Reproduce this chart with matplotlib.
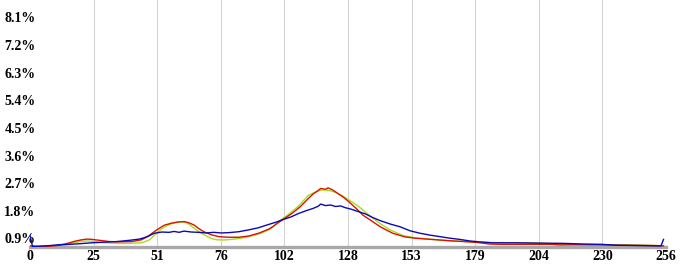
import numpy as np
import matplotlib
matplotlib.use("Agg")
from matplotlib import pyplot as plt

# tick labels as shown on the chart
x_tick_labels = ["0", "25", "51", "76", "102", "128", "153", "179", "204", "230", "256"]
y_tick_values = [0.9, 1.8, 2.7, 3.6, 4.5, 5.4, 6.3, 7.2, 8.1]

# series (percent of pixels per level)
green_x = [0, 5, 10, 14, 17, 20, 23, 26, 30, 35, 40, 45, 48, 50, 53, 56, 59, 61, 63, 65,
           67, 69, 71, 73, 75, 78, 81, 85, 89, 93, 97, 100, 104, 108, 112, 115, 117, 119,
           121, 123, 126, 129, 132, 135, 138, 141, 145, 150, 155, 160, 165, 170, 175, 180,
           185, 195, 205, 212, 220, 230, 240, 250, 255]
green_y = [0.64, 0.64, 0.65, 0.68, 0.75, 0.80, 0.82, 0.80, 0.76, 0.74, 0.74, 0.76, 0.85,
           1.00, 1.22, 1.35, 1.43, 1.44, 1.42, 1.30, 1.18, 1.07, 0.98, 0.90, 0.86, 0.85,
           0.87, 0.91, 0.98, 1.07, 1.22, 1.45, 1.68, 1.95, 2.30, 2.42, 2.47, 2.48, 2.45,
           2.40, 2.28, 2.12, 1.96, 1.76, 1.56, 1.38, 1.18, 1.00, 0.92, 0.88, 0.85, 0.82,
           0.80, 0.78, 0.77, 0.76, 0.75, 0.72, 0.69, 0.70, 0.69, 0.68, 0.66]

red_x = [0, 3, 8, 12, 15, 18, 21, 23, 25, 28, 32, 36, 41, 45, 48, 51, 54, 57, 60, 62, 64,
         66, 68, 70, 73, 76, 80, 84, 88, 92, 96, 98, 100, 103, 106, 109, 112, 114, 116, 117,
         119, 120, 122, 124, 126, 128, 131, 134, 137, 141, 146, 151, 155, 160, 165, 170,
         175, 180, 185, 190, 200, 210, 213, 220, 230, 240, 250, 255]
red_y = [0.66, 0.64, 0.65, 0.68, 0.74, 0.81, 0.86, 0.88, 0.87, 0.84, 0.80, 0.79, 0.80,
         0.86, 1.00, 1.18, 1.33, 1.40, 1.44, 1.45, 1.41, 1.34, 1.22, 1.12, 1.02, 0.96,
         0.94, 0.94, 0.98, 1.07, 1.20, 1.30, 1.42, 1.58, 1.75, 1.95, 2.20, 2.35, 2.46,
         2.53, 2.50, 2.55, 2.47, 2.36, 2.25, 2.12, 1.90, 1.66, 1.50, 1.28, 1.07, 0.95,
         0.91, 0.88, 0.85, 0.82, 0.80, 0.77, 0.72, 0.71, 0.71, 0.71, 0.69, 0.70, 0.69,
         0.68, 0.67, 0.66]

blue_x = [0, 1, 4, 8, 12, 16, 20, 25, 30, 35, 40, 44, 47, 50, 53, 56, 58, 60, 62, 65, 68,
          71, 74, 77, 80, 84, 88, 92, 95, 99, 102, 105, 108, 111, 114, 116, 117, 119, 121,
          123, 125, 127, 129, 132, 135, 138, 141, 145, 149, 153, 157, 161, 165, 169, 173,
          177, 181, 186, 195, 205, 215, 223, 230, 236, 245, 253, 254, 255]
blue_y = [1.01, 0.64, 0.65, 0.67, 0.70, 0.71, 0.73, 0.76, 0.78, 0.80, 0.84, 0.88, 0.95,
          1.07, 1.11, 1.10, 1.13, 1.10, 1.14, 1.11, 1.10, 1.08, 1.10, 1.08, 1.09, 1.12,
          1.18, 1.25, 1.33, 1.43, 1.52, 1.60, 1.71, 1.80, 1.88, 1.95, 2.02, 1.97, 1.99,
          1.94, 1.96, 1.90, 1.86, 1.78, 1.70, 1.58, 1.48, 1.37, 1.28, 1.15, 1.07, 1.01,
          0.96, 0.91, 0.87, 0.82, 0.79, 0.76, 0.76, 0.75, 0.74, 0.72, 0.71, 0.68, 0.67,
          0.66, 0.66, 0.87]

W, H = 690, 266
fig = plt.figure(figsize=(W / 100, H / 100), dpi=100)
ax = fig.add_axes([30 / W, 1 - 247 / H, 636 / W, 247 / H])

ax.set_xlim(0, 256)
ax.set_ylim(0.623, 8.66)

x_ticks = [i * 25.6 for i in range(len(x_tick_labels))]
for xt in x_ticks[1:-1]:
    ax.axvline(xt, color="#d4d4d4", lw=0.8, zorder=0)

ax.plot(green_x, green_y, color="#a6dc1e", lw=1.0, zorder=2)
ax.plot(red_x, red_y, color="#dd1100", lw=1.0, zorder=3)
ax.plot(blue_x, blue_y, color="#0a0ab4", lw=1.0, zorder=4)

for s in ["top", "right", "left"]:
    ax.spines[s].set_visible(False)
ax.spines["bottom"].set_color("#a8a8a8")
ax.spines["bottom"].set_linewidth(2.4)

font = dict(family="Liberation Serif", weight="bold", size=10)
ax.set_xticks(x_ticks)
ax.set_xticklabels(x_tick_labels, **font)
ax.tick_params(axis="x", length=0, pad=2.5)

ax.set_yticks(y_tick_values)
ax.set_yticklabels([f"{v:.1f}%" for v in y_tick_values], ha="left", **font)
ax.tick_params(axis="y", length=0, pad=18.5)

fig.savefig("out.png", dpi=100)
